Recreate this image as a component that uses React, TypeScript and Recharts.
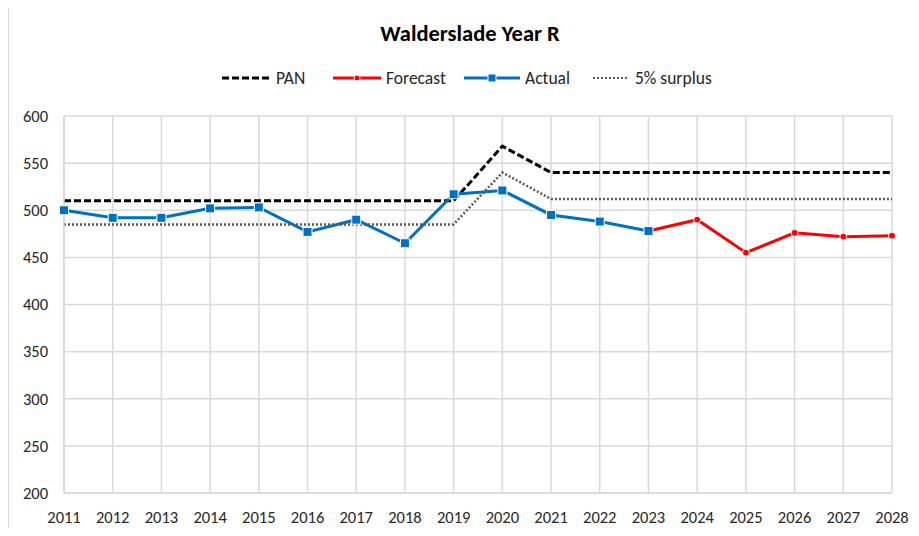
import React from "react";
import { LineChart, Line, XAxis, YAxis, CartesianGrid } from "recharts";

const years = ["2011", "2012", "2013", "2014", "2015", "2016", "2017", "2018", "2019", "2020", "2021", "2022", "2023", "2024", "2025", "2026", "2027", "2028"];
const pan = [510, 510, 510, 510, 510, 510, 510, 510, 510, 568, 540, 540, 540, 540, 540, 540, 540, 540];
const surplus = [485, 485, 485, 485, 485, 485, 485, 485, 485, 540, 512, 512, 512, 512, 512, 512, 512, 512];
const actual = [500, 492, 492, 502, 503, 477, 490, 465, 517, 521, 495, 488, 478, null, null, null, null, null];
const forecast = [null, null, null, null, null, null, null, null, null, null, null, null, 478, 490, 455, 476, 472, 473];
const yTicks = [200, 250, 300, 350, 400, 450, 500, 550, 600];

const data = years.map((y, i) => ({
  year: y,
  pan: pan[i],
  surplus: surplus[i],
  actual: actual[i],
  forecast: forecast[i],
}));

const FONT = "Carlito, 'Liberation Sans', Arial, sans-serif";

const SquareDot = (props: any) => {
  const { cx, cy, index } = props;
  if (cx == null || cy == null) return <g key={index} />;
  return <rect key={index} x={cx - 4.5} y={cy - 4.5} width={9} height={9} fill="#0070C0" stroke="#fff" strokeWidth={1} />;
};

const legendItems = [
  { label: "PAN", color: "#000", dash: "7 3", width: 3, marker: null, lineX: 222, lineW: 50, textX: 276 },
  { label: "Forecast", color: "#FF0000", dash: undefined, width: 3, marker: "circle", lineX: 333, lineW: 48, textX: 386 },
  { label: "Actual", color: "#0070C0", dash: undefined, width: 3, marker: "square", lineX: 464, lineW: 56, textX: 525 },
  { label: "5% surplus", color: "#595959", dash: "2 2", width: 2, marker: null, lineX: 593, lineW: 36, textX: 635 },
];

export default function App() {
  return (
    <div style={{ position: "relative", width: 919, height: 536, margin: -8, background: "#fff", fontFamily: FONT, overflow: "hidden" }}>
      <div style={{ position: "absolute", left: 8, top: 4, width: 930, height: 560, border: "1px solid #d9d9d9", boxSizing: "border-box" }} />
      <div style={{ position: "absolute", left: 0, top: 20, width: 940, textAlign: "center", fontWeight: "bold", fontSize: 22.5, color: "#000" }}>
        Walderslade Year R
      </div>
      <svg style={{ position: "absolute", left: 0, top: 0 }} width={919} height={100}>
        {legendItems.map((it) => (
          <g key={it.label}>
            <line x1={it.lineX} x2={it.lineX + it.lineW} y1={78} y2={78} stroke={it.color} strokeWidth={it.width} strokeDasharray={it.dash} />
            {it.marker === "circle" && <circle cx={it.lineX + it.lineW / 2} cy={78} r={3} fill={it.color} stroke="#fff" strokeWidth={1} />}
            {it.marker === "square" && <rect x={it.lineX + it.lineW / 2 - 4} y={74} width={8} height={8} fill={it.color} stroke="#fff" strokeWidth={1} />}
            <text x={it.textX} y={84} fontSize={17.5} fill="#262626" fontFamily={FONT}>{it.label}</text>
          </g>
        ))}
      </svg>
      <div style={{ position: "absolute", left: 0, top: 0 }}>
        <LineChart width={919} height={536} data={data} margin={{ top: 116, right: 27, left: 8, bottom: 0 }}>
          <CartesianGrid stroke="#d9d9d9" strokeWidth={1.5} />
          <XAxis
            dataKey="year"
            axisLine={{ stroke: "#d9d9d9", strokeWidth: 1.5 }}
            tickLine={false}
            height={43}
            tick={{ fontSize: 16.5, fill: "#262626", fontFamily: FONT }}
            tickMargin={12}
            interval={0}
          />
          <YAxis
            domain={[200, 600]}
            ticks={yTicks}
            width={56}
            axisLine={{ stroke: "#d9d9d9", strokeWidth: 1.5 }}
            tickLine={false}
            tick={{ fontSize: 16.5, fill: "#262626", fontFamily: FONT }}
            tickMargin={10}
            interval={0}
          />
          <Line dataKey="pan" stroke="#000" strokeWidth={3} strokeDasharray="7 3" dot={false} isAnimationActive={false} />
          <Line
            dataKey="forecast"
            stroke="#FF0000"
            strokeWidth={3}
            dot={{ r: 3.5, fill: "#FF0000", stroke: "#fff", strokeWidth: 1 }}
            connectNulls={false}
            isAnimationActive={false}
          />
          <Line dataKey="actual" stroke="#0070C0" strokeWidth={3} dot={SquareDot} connectNulls={false} isAnimationActive={false} />
          <Line dataKey="surplus" stroke="#595959" strokeWidth={2.5} strokeDasharray="2 2" dot={false} isAnimationActive={false} />
        </LineChart>
      </div>
    </div>
  );
}
